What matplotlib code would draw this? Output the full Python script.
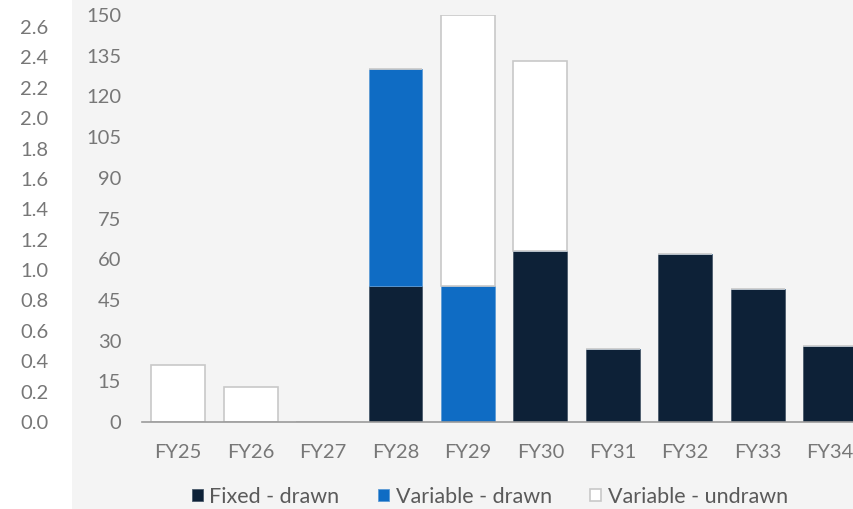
import numpy as np
import matplotlib
matplotlib.use('Agg')
import matplotlib.pyplot as plt
from matplotlib.patches import Rectangle

plt.rcParams['font.family'] = ['Lato', 'DejaVu Sans']

# Debt maturity profile
years = ['FY25', 'FY26', 'FY27', 'FY28', 'FY29', 'FY30', 'FY31', 'FY32', 'FY33', 'FY34']
fixed_drawn = [0, 0, 0, 50, 0, 63, 27, 62, 49, 28]
variable_drawn = [0, 0, 0, 80, 50, 0, 0, 0, 0, 0]
variable_undrawn = [21, 13, 0, 0, 100, 70, 0, 0, 0, 0]
outer_ticks = [0.0, 0.2, 0.4, 0.6, 0.8, 1.0, 1.2, 1.4, 1.6, 1.8, 2.0, 2.2, 2.4, 2.6]

navy = '#0d2137'
blue = '#0f6cc4'
grey_txt = '#777777'
bg = '#f4f4f4'
fs = 14.5

W, H = 854, 509
fig = plt.figure(figsize=(W / 100, H / 100), dpi=100)

# grey panel behind the chart
fig.patches.append(Rectangle((72 / W, 0), 1 - 72 / W, 1, transform=fig.transFigure,
                             facecolor=bg, edgecolor='none', zorder=-5))

y0, y150 = 422, 15
ax = fig.add_axes([142 / W, (H - y0) / H, 1 - 142 / W, (y0 - y150) / H])
ax.set_facecolor('none')
ax.set_zorder(2)

x = np.arange(len(years))
fd = np.array(fixed_drawn)
vd = np.array(variable_drawn)
vu = np.array(variable_undrawn)
w = 0.745

ax.bar(x, fd, w, color=navy, edgecolor='#4a5a6b', linewidth=0.6, label='Fixed - drawn')
ax.bar(x, vd, w, bottom=fd, color=blue, edgecolor='#5d9bd6', linewidth=0.6, label='Variable - drawn')
ax.bar(x, vu, w, bottom=fd + vd, color='white', edgecolor='#c8c8c8', linewidth=1.2,
       label='Variable - undrawn')

ax.set_xlim(-0.5, 9.33)
ax.set_ylim(0, 150)
ax.set_yticks(np.arange(0, 151, 15))
ax.set_xticks(x)
ax.set_xticklabels(years)
ax.tick_params(axis='both', length=0, labelsize=fs, colors=grey_txt)
ax.tick_params(axis='y', pad=15)
ax.tick_params(axis='x', pad=16)
for s in ['top', 'right', 'left']:
    ax.spines[s].set_visible(False)
ax.spines['bottom'].set_color('#9a9a9a')
ax.spines['bottom'].set_linewidth(1.2)

# secondary scale on the far left
o0, o26 = 422, 27
ax2 = fig.add_axes([51 / W, (H - o0) / H, 0.0001, (o0 - o26) / H])
ax2.set_ylim(0, 2.6)
ax2.set_yticks(outer_ticks)
ax2.set_yticklabels([f'{v:.1f}' for v in outer_ticks])
ax2.set_xticks([])
ax2.tick_params(axis='y', length=0, labelsize=fs, colors=grey_txt, pad=2)
for s in ax2.spines.values():
    s.set_visible(False)
ax2.set_facecolor('none')

leg = ax.legend(loc='center', bbox_to_anchor=(490 / W, (H - 497) / H),
                bbox_transform=fig.transFigure, ncol=3, frameon=False,
                fontsize=15.5, handlelength=0.5, handleheight=0.5,
                handletextpad=0.3, columnspacing=1.8)
for t in leg.get_texts():
    t.set_color('#5a5a5a')

fig.savefig('out.png', dpi=100)
